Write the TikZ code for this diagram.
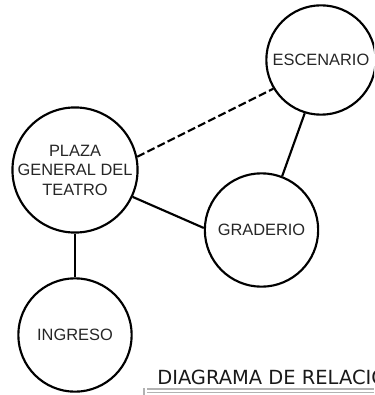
\documentclass[tikz,border=0pt]{standalone}
\usepackage{fontspec}
\setmainfont{Liberation Sans}
\newfontfamily\titlefont{DejaVu Sans}
\begin{document}
\begin{tikzpicture}[x=0.75pt,y=-0.75pt,
  place/.style={circle,draw=black,line width=1.6pt,inner sep=0pt,minimum size=85pt,
    font=\fontsize{12.3}{14.6}\selectfont,align=center,text=black!85},
  link/.style={line width=1.6pt,draw=black}]
\useasboundingbox (0,0) rectangle (374,395);
\clip (0,0) rectangle (374,395);
\node[place,minimum size=82pt] (esc) at (321,60) {ESCENARIO};
\node[place] (plaza) at (75,170) {PLAZA\\GENERAL DEL\\TEATRO};
\node[place] (grad) at (261.5,230) {GRADERIO};
\node[place] (ing) at (75,335) {INGRESO};
\draw[link,dash pattern=on 6pt off 2.5pt] (plaza.12) -- (esc.-149);
\draw[link] (esc.-107) -- (grad.69);
\draw[link] (plaza.-25) -- (grad.178);
\draw[link,line width=2.2pt] (plaza.south) -- (ing.north);
\node[font=\titlefont\fontsize{14.6}{16}\selectfont,anchor=base west,inner sep=0pt,text=black!90] (title) at (157,384.5) {DIAGRAMA DE RELACIONES};
\coordinate (ul1) at (147,389);
\coordinate (ur1) at (374,389);
\coordinate (ul2) at (147,392.5);
\coordinate (ur2) at (374,392.5);
\draw[gray!60,line width=0.9pt] (ul1) -- (ur1);
\draw[gray!60,line width=0.9pt] (ul2) -- (ur2);
\coordinate (vt) at (144,388);
\coordinate (vb) at (144,395);
\draw[gray!60,line width=0.8pt] (vt) -- (vb);
\end{tikzpicture}
\end{document}
